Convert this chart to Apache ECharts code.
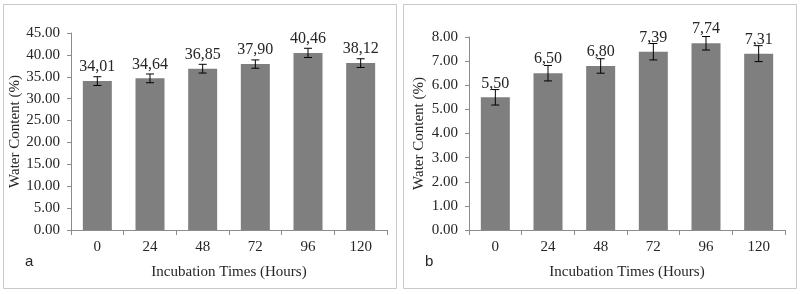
<!DOCTYPE html>
<html>
<head>
<meta charset="utf-8">
<script src="https://cdn.jsdelivr.net/npm/echarts@6/dist/echarts.min.js"></script>
<style>
html,body{margin:0;padding:0;background:#fff;}
#c{width:801px;height:294px;}
</style>
</head>
<body>
<div id="c"></div>
<script>
var categories = ['0', '24', '48', '72', '96', '120'];
var valuesA = [34.01, 34.64, 36.85, 37.90, 40.46, 38.12];
var errorsA = [1.0, 1.0, 1.0, 0.95, 1.05, 1.0];
var valuesB = [5.50, 6.50, 6.80, 7.39, 7.74, 7.31];
var errorsB = [0.32, 0.32, 0.30, 0.34, 0.28, 0.33];
var panelLetters = ['a', 'b'];
var xTitle = 'Incubation Times (Hours)';
var yTitle = 'Water Content (%)';

var serif = '"Liberation Serif", "Times New Roman", serif';
var textColor = '#262626';
var axisColor = '#8c8c8c';
var barColor = '#7f7f7f';

function errData(vals, errs) {
  return vals.map(function (v, i) { return [i, v - errs[i], v + errs[i]]; });
}
function errRender(params, api) {
  var lo = api.coord([api.value(0), api.value(1)]);
  var hi = api.coord([api.value(0), api.value(2)]);
  var w = 4;
  var st = { stroke: '#000', lineWidth: 1 };
  return {
    type: 'group',
    children: [
      { type: 'line', shape: { x1: lo[0], y1: lo[1], x2: hi[0], y2: hi[1] }, style: st },
      { type: 'line', shape: { x1: lo[0] - w, y1: lo[1], x2: lo[0] + w, y2: lo[1] }, style: st },
      { type: 'line', shape: { x1: hi[0] - w, y1: hi[1], x2: hi[0] + w, y2: hi[1] }, style: st }
    ]
  };
}
function xAxisCfg(gi) {
  return {
    type: 'category', gridIndex: gi, data: categories,
    name: xTitle, nameLocation: 'middle', nameGap: 35,
    nameTextStyle: { fontFamily: serif, fontSize: 15, color: textColor },
    axisLine: { lineStyle: { color: axisColor } },
    axisTick: { show: true, length: 5, lineStyle: { color: axisColor } },
    axisLabel: { fontFamily: serif, fontSize: 15, color: textColor, margin: 10 }
  };
}
function yAxisCfg(gi, max, interval, gap) {
  return {
    type: 'value', gridIndex: gi, min: 0, max: max, interval: interval,
    name: yTitle, nameLocation: 'middle', nameGap: gap,
    nameTextStyle: { fontFamily: serif, fontSize: 15, color: textColor },
    axisLine: { show: true, lineStyle: { color: axisColor } },
    axisTick: { show: true, length: 4, lineStyle: { color: axisColor } },
    splitLine: { show: false },
    axisLabel: {
      fontFamily: serif, fontSize: 15, color: textColor, margin: 11,
      formatter: function (v) { return v.toFixed(2); }
    }
  };
}
function barSeries(idx, vals) {
  return {
    type: 'bar', xAxisIndex: idx, yAxisIndex: idx, data: vals,
    barWidth: 29, itemStyle: { color: barColor },
    label: {
      show: true, position: 'top', distance: 6,
      fontFamily: serif, fontSize: 16, color: textColor,
      formatter: function (p) { return p.value.toFixed(2).replace('.', ','); }
    },
    z: 2
  };
}

var chart = echarts.init(document.getElementById('c'), null, { renderer: 'canvas' });
chart.setOption({
  animation: false,
  backgroundColor: '#fff',
  grid: [
    { left: 71, right: 414, top: 33, bottom: 64 },
    { left: 469, right: 16, top: 37, bottom: 64 }
  ],
  xAxis: [xAxisCfg(0), xAxisCfg(1)],
  yAxis: [yAxisCfg(0, 45, 5, 45), yAxisCfg(1, 8, 1, 42)],
  graphic: [
    { type: 'rect', shape: { x: 3.5, y: 4.5, width: 393, height: 284 }, style: { fill: 'none', stroke: '#c8c8c8', lineWidth: 1 } },
    { type: 'rect', shape: { x: 403.5, y: 4.5, width: 393, height: 284 }, style: { fill: 'none', stroke: '#c8c8c8', lineWidth: 1 } },
    { type: 'text', left: 25, top: 254, style: { text: panelLetters[0], font: '15px "Liberation Sans", Arial, sans-serif', fill: textColor } },
    { type: 'text', left: 425, top: 254, style: { text: panelLetters[1], font: '15px "Liberation Sans", Arial, sans-serif', fill: textColor } }
  ],
  series: [
    barSeries(0, valuesA),
    barSeries(1, valuesB),
    { type: 'custom', xAxisIndex: 0, yAxisIndex: 0, data: errData(valuesA, errorsA), renderItem: errRender, z: 5, encode: { x: 0, y: [1, 2] } },
    { type: 'custom', xAxisIndex: 1, yAxisIndex: 1, data: errData(valuesB, errorsB), renderItem: errRender, z: 5, encode: { x: 0, y: [1, 2] } }
  ]
});
</script>
</body>
</html>
